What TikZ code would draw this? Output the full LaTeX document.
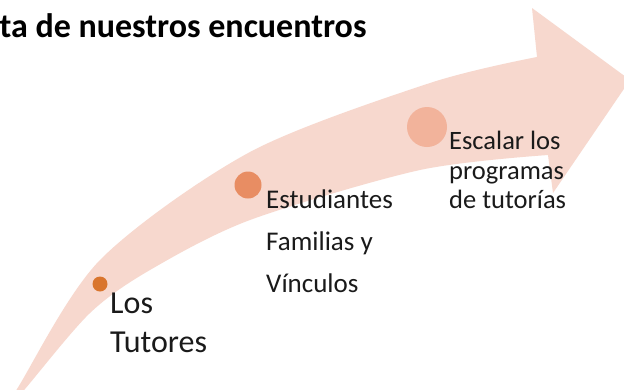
\documentclass[tikz,border=0pt]{standalone}
\usepackage{fontspec}
\setmainfont{Carlito}
\definecolor{bandc}{HTML}{F7D8CE}
\definecolor{dotA}{HTML}{D9752D}
\definecolor{dotB}{HTML}{E88D63}
\definecolor{dotC}{HTML}{F2B39B}
\definecolor{txt}{HTML}{1A1A1A}
\tikzset{
  lbl/.style={anchor=base west, inner sep=0pt, text=txt},
  dotn/.style={circle, inner sep=0pt, draw=none},
}
\begin{document}
\begin{tikzpicture}[x=1pt,y=-1pt]
\useasboundingbox (0,0) rectangle (624,389);
\clip (0,0) rectangle (624,389);
\fill[white] (0,0) rectangle (624,389);
% big curved arrow
\fill[bandc] plot[smooth] coordinates {(-5,424) (17,389) (100,260) (250,152) (430,83) (537,57)}
  -- (532,8) -- (630,80) -- (553,193) -- (548,155)
  -- plot[smooth] coordinates {(548,155) (420,170) (250,220) (150,270) (90,313) (25,389) (-5,424)} -- cycle;
% title
\node[lbl, font=\fontsize{34}{40}\selectfont\bfseries, text=black] (title) at (-38,37) {Ruta de nuestros encuentros};
% dots
\node[dotn, fill=dotA, minimum size=15pt] (d1) at (100,284) {};
\node[dotn, fill=dotB, minimum size=27pt] (d2) at (248,185) {};
\node[dotn, fill=dotC, minimum size=40pt] (d3) at (427,127) {};
% labels
\node[lbl, font=\fontsize{32}{39}\selectfont] (t1a) at (110,313) {Los};
\node[lbl, font=\fontsize{32}{39}\selectfont] (t1b) at (110,352) {Tutores};
\node[lbl, font=\fontsize{27}{33}\selectfont] (t2a) at (266,208) {Estudiantes};
\node[lbl, font=\fontsize{27}{33}\selectfont] (t2b) at (266,250) {Familias y};
\node[lbl, font=\fontsize{27}{33}\selectfont] (t2c) at (266,292) {Vínculos};
\node[lbl, font=\fontsize{26.5}{31}\selectfont] (t3a) at (449,149) {Escalar los};
\node[lbl, font=\fontsize{26.5}{31}\selectfont] (t3b) at (449,179) {programas};
\node[lbl, font=\fontsize{26.5}{31}\selectfont] (t3c) at (449,208) {de tutorías};
\end{tikzpicture}
\end{document}
